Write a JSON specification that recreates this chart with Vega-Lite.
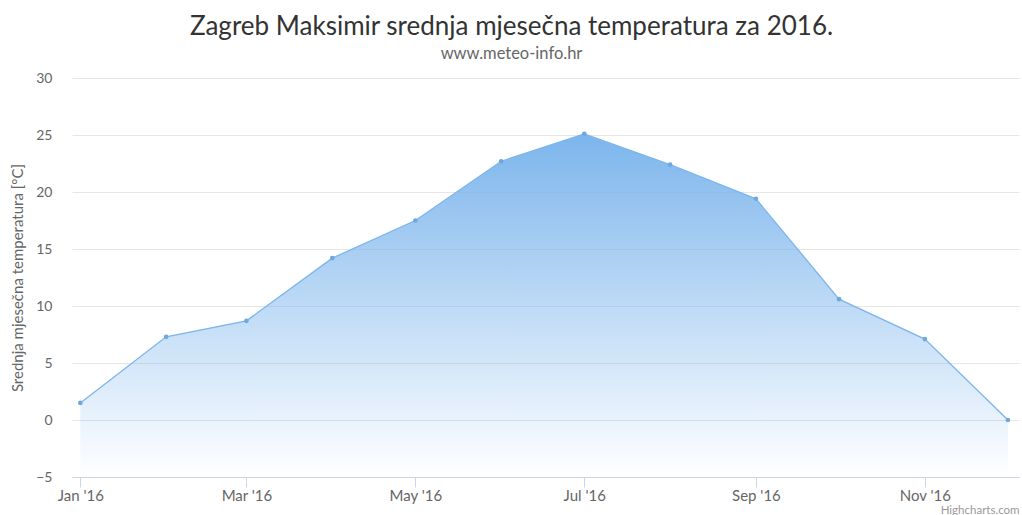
{
  "$schema": "https://vega.github.io/schema/vega-lite/v6.json",
  "width": 947,
  "height": 399,
  "autosize": {"type": "none"},
  "padding": {"left": 72, "top": 78, "right": 3, "bottom": 38},
  "background": "white",
  "title": {
    "text": "Zagreb Maksimir srednja mjesečna temperatura za 2016.",
    "subtitle": "www.meteo-info.hr",
    "anchor": "middle",
    "frame": "group",
    "dx": -34,
    "font": "Lato",
    "fontSize": 26,
    "fontWeight": "normal",
    "color": "#333333",
    "subtitleFont": "Lato",
    "subtitleFontSize": 16.5,
    "subtitleColor": "#666666",
    "subtitlePadding": 6,
    "offset": 9
  },
  "config": {
    "view": {"stroke": null},
    "font": "Lato"
  },
  "data": {
    "values": [
      {"date": "2016-01-01", "temp": 1.5},
      {"date": "2016-02-01", "temp": 7.3},
      {"date": "2016-03-01", "temp": 8.7},
      {"date": "2016-04-01", "temp": 14.2},
      {"date": "2016-05-01", "temp": 17.5},
      {"date": "2016-06-01", "temp": 22.7},
      {"date": "2016-07-01", "temp": 25.1},
      {"date": "2016-08-01", "temp": 22.4},
      {"date": "2016-09-01", "temp": 19.4},
      {"date": "2016-10-01", "temp": 10.6},
      {"date": "2016-11-01", "temp": 7.1},
      {"date": "2016-12-01", "temp": 0.0}
    ]
  },
  "encoding": {
    "x": {
      "field": "date",
      "type": "temporal",
      "scale": {
        "type": "utc",
        "domain": [
          {"year": 2015, "month": 12, "date": 29, "utc": true},
          {"year": 2016, "month": 12, "date": 5, "utc": true}
        ]
      },
      "axis": {
        "values": [
          {"year": 2016, "month": 1, "date": 1, "utc": true},
          {"year": 2016, "month": 3, "date": 1, "utc": true},
          {"year": 2016, "month": 5, "date": 1, "utc": true},
          {"year": 2016, "month": 7, "date": 1, "utc": true},
          {"year": 2016, "month": 9, "date": 1, "utc": true},
          {"year": 2016, "month": 11, "date": 1, "utc": true}
        ],
        "labelExpr": "utcFormat(datum.value, \"%b '%y\")",
        "grid": false,
        "domainColor": "#ccd6eb",
        "tickColor": "#ccd6eb",
        "tickSize": 10,
        "labelPadding": 1,
        "labelFontSize": 15,
        "labelColor": "#666666",
        "labelFont": "Lato",
        "title": "Highcharts.com",
        "titleAnchor": "end",
        "titleAlign": "right",
        "titleBaseline": "alphabetic",
        "titleY": 36,
        "titleFontSize": 11.5,
        "titleFontWeight": "normal",
        "titleColor": "#999999",
        "titleFont": "Lato"
      }
    },
    "y": {
      "field": "temp",
      "type": "quantitative",
      "scale": {"domain": [-5, 30], "nice": false, "zero": false},
      "axis": {
        "values": [-5, 0, 5, 10, 15, 20, 25, 30],
        "grid": true,
        "gridColor": "#e6e6e6",
        "domain": false,
        "ticks": false,
        "labelPadding": 20,
        "labelFontSize": 14,
        "labelColor": "#666666",
        "labelFont": "Lato",
        "title": "Srednja mjesečna temperatura [°C]",
        "titleFontSize": 15,
        "titleFontWeight": "normal",
        "titleColor": "#666666",
        "titleFont": "Lato",
        "titlePadding": 10
      }
    }
  },
  "layer": [
    {
      "mark": {
        "type": "area",
        "line": false,
        "color": {
          "gradient": "linear",
          "x1": 0, "y1": 0, "x2": 0, "y2": 1,
          "stops": [
            {"offset": 0, "color": "rgba(124,181,236,1)"},
            {"offset": 1, "color": "rgba(124,181,236,0)"}
          ]
        }
      },
      "encoding": {
        "y2": {"datum": -5}
      }
    },
    {
      "mark": {"type": "line", "color": "#7cb5ec", "strokeWidth": 1.3},
      "encoding": {}
    },
    {
      "mark": {"type": "point", "filled": true, "color": "#6fa8e0", "size": 22, "opacity": 1},
      "encoding": {}
    }
  ]
}
